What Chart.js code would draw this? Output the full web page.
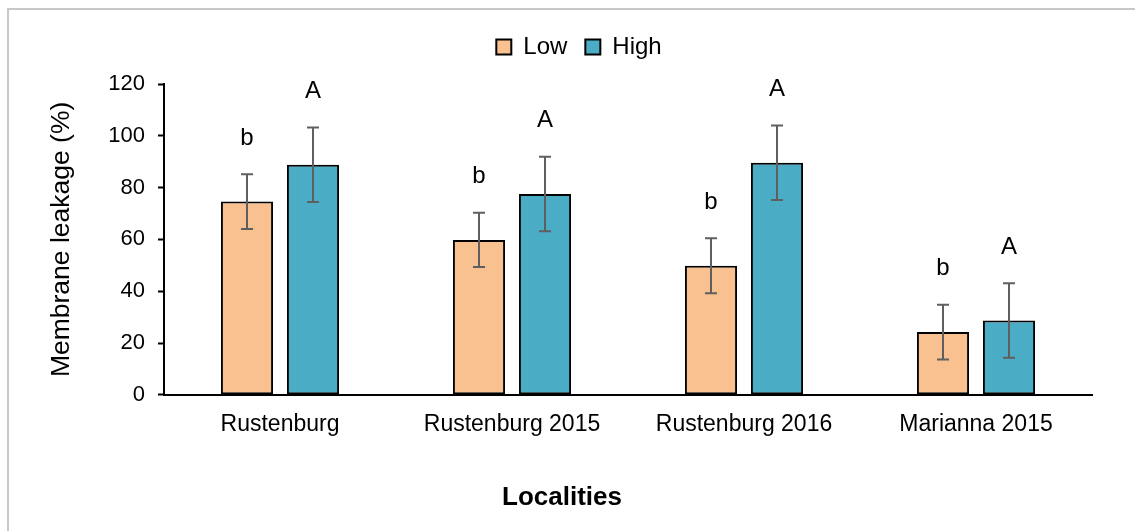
<!DOCTYPE html>
<html>
<head>
<meta charset="utf-8">
<script src="https://cdn.jsdelivr.net/npm/chart.js@4/dist/chart.umd.min.js"></script>
<style>
  html, body { margin: 0; padding: 0; background: #fff; }
  #wrap { position: relative; width: 1135px; height: 531px; overflow: hidden; }
  #frame {
    position: absolute; left: 7px; top: 8px; width: 1200px; height: 600px;
    border-left: 2px solid #c8c8c8; border-top: 2px solid #c8c8c8;
    pointer-events: none;
  }
  canvas { position: absolute; left: 0; top: 0; }
</style>
</head>
<body>
<div id="wrap">
  <canvas id="leakChart" width="1135" height="531"></canvas>
  <div id="frame"></div>
</div>
<script>
// Localities and treatment means
const localities = ["Rustenburg", "Rustenburg 2015", "Rustenburg 2016", "Marianna 2015"];
const lowValues = [74.6, 59.8, 49.8, 24.2];
const highValues = [88.8, 77.5, 89.6, 28.7];
const lowErrors = [10.6, 10.5, 10.6, 10.6];
const highErrors = [14.4, 14.4, 14.4, 14.4];
const lowLetters = ["b", "b", "b", "b"];
const highLetters = ["A", "A", "A", "A"];
const yTicks = [0, 20, 40, 60, 80, 100, 120];

const FONT = "'Liberation Sans', Arial, sans-serif";

// error bars plus significance letters above each bar
const errorBarPlugin = {
  id: "errorBars",
  afterDatasetsDraw(chart) {
    const ctx = chart.ctx;
    const y = chart.scales.y;
    chart.data.datasets.forEach((ds, di) => {
      const meta = chart.getDatasetMeta(di);
      meta.data.forEach((bar, i) => {
        const v = ds.data[i];
        const e = ds.errors[i];
        const top = y.getPixelForValue(v + e);
        const bottom = y.getPixelForValue(v - e);
        ctx.save();
        ctx.strokeStyle = "#5f5f5f";
        ctx.lineWidth = 2;
        ctx.beginPath();
        ctx.moveTo(bar.x, top);
        ctx.lineTo(bar.x, bottom);
        ctx.moveTo(bar.x - 6, top);
        ctx.lineTo(bar.x + 6, top);
        ctx.moveTo(bar.x - 6, bottom);
        ctx.lineTo(bar.x + 6, bottom);
        ctx.stroke();
        ctx.fillStyle = "#000";
        ctx.font = "24px " + FONT;
        ctx.textAlign = "center";
        ctx.textBaseline = "middle";
        ctx.fillText(ds.letters[i], bar.x, top - 36);
        ctx.restore();
      });
    });
  }
};

// pad the legend so the plot starts lower
const legendGapPlugin = {
  id: "legendGap",
  beforeInit(chart) {
    const fit = chart.legend.fit;
    chart.legend.fit = function () {
      fit.bind(chart.legend)();
      this.height += 15;
    };
  },
  // nudge legend and bottom title a little to the right
  afterLayout(chart) {
    if (chart.titleBlock) {
      chart.titleBlock.left += 16;
      chart.titleBlock.right += 16;
    }
    if (chart.legend) {
      chart.legend.left += 33;
      chart.legend.right += 33;
    }
  }
};

const whiteBg = {
  id: "whiteBg",
  beforeDraw(chart) {
    const ctx = chart.ctx;
    ctx.save();
    ctx.fillStyle = "#fff";
    ctx.fillRect(0, 0, chart.width, chart.height);
    ctx.restore();
  }
};

new Chart(document.getElementById("leakChart"), {
  type: "bar",
  data: {
    labels: localities,
    datasets: [
      {
        label: "Low",
        data: lowValues,
        errors: lowErrors,
        letters: lowLetters,
        backgroundColor: "#F9C18F",
        borderColor: "#000",
        borderWidth: 2,
        borderSkipped: false
      },
      {
        label: "High",
        data: highValues,
        errors: highErrors,
        letters: highLetters,
        backgroundColor: "#4BACC6",
        borderColor: "#000",
        borderWidth: 2,
        borderSkipped: false
      }
    ]
  },
  options: {
    responsive: false,
    animation: false,
    categoryPercentage: 0.569,
    barPercentage: 0.79,
    layout: { padding: { top: 17, right: 43, left: 0, bottom: 0 } },
    plugins: {
      legend: {
        position: "top",
        labels: {
          color: "#000",
          font: { family: FONT, size: 24 },
          boxWidth: 15,
          boxHeight: 15,
          padding: 18
        }
      },
      title: {
        display: true,
        position: "bottom",
        text: "Localities",
        color: "#000",
        font: { family: FONT, size: 26, weight: "bold" },
        padding: { top: 10, bottom: 18 }
      },
      tooltip: { enabled: false }
    },
    scales: {
      x: {
        grid: { display: false, drawTicks: false },
        border: { display: true, color: "#000", width: 2 },
        ticks: { color: "#000", font: { family: FONT, size: 23 }, padding: 16 },
        afterFit(scale) { scale.height = 77; }
      },
      y: {
        min: 0,
        max: 120,
        afterBuildTicks(scale) { scale.ticks = yTicks.map(v => ({ value: v })); },
        grid: { display: true, drawOnChartArea: false, drawTicks: true, tickLength: 6, tickColor: "#000", tickWidth: 2 },
        border: { display: true, color: "#000", width: 2 },
        ticks: { color: "#000", font: { family: FONT, size: 22 }, padding: 13 },
        title: {
          display: true,
          text: "Membrane leakage (%)",
          color: "#000",
          font: { family: FONT, size: 26.5 },
          padding: { top: 46, bottom: 0 }
        },
        afterFit(scale) { scale.width = 164; }
      }
    }
  },
  plugins: [whiteBg, legendGapPlugin, errorBarPlugin]
});
</script>
</body>
</html>
